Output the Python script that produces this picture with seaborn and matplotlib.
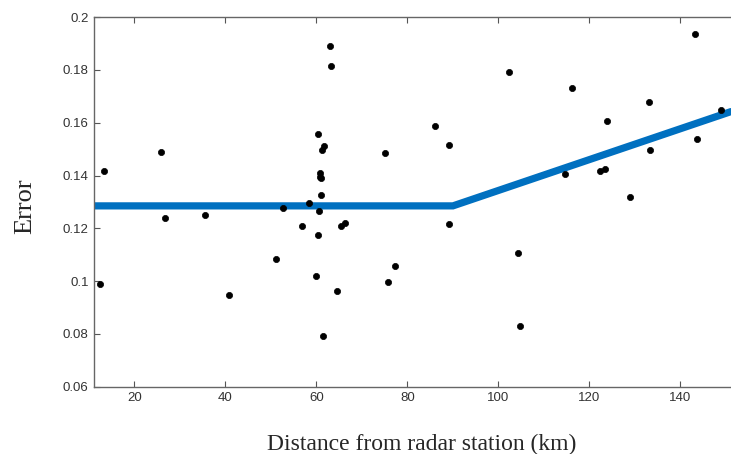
import numpy as np
import pandas as pd
import matplotlib
matplotlib.use("Agg")
import matplotlib.pyplot as plt
import seaborn as sns
from matplotlib.ticker import FormatStrFormatter

# Data
distance = [12.5, 13.3, 25.9, 26.7, 35.6, 40.9, 51.1, 52.7, 56.9, 58.4,
            60.0, 60.4, 60.4, 60.6, 60.9, 60.9, 61.1, 61.1, 61.3, 61.7,
            61.5, 63.0, 63.3, 64.6, 65.5, 66.3, 75.1, 75.7, 77.3, 86.1,
            89.2, 89.2, 102.4, 104.4, 104.8, 114.7, 116.2, 122.4, 123.5, 123.9,
            128.8, 133.0, 133.2, 143.1, 143.7, 149.0]
error = [0.0990, 0.1417, 0.1490, 0.1240, 0.1250, 0.0946, 0.1085, 0.1277, 0.1210, 0.1297,
         0.1021, 0.1175, 0.1558, 0.1265, 0.1410, 0.1395, 0.1390, 0.1327, 0.1497, 0.1510,
         0.0793, 0.1892, 0.1815, 0.0964, 0.1209, 0.1220, 0.1486, 0.0998, 0.1059, 0.1587,
         0.1514, 0.1218, 0.1792, 0.1107, 0.0831, 0.1404, 0.1733, 0.1418, 0.1424, 0.1608,
         0.1320, 0.1678, 0.1497, 0.1934, 0.1540, 0.1647]

fit_x = [11.2, 90.0, 151.1]
fit_y = [0.1285, 0.1285, 0.1642]

xticks = [20, 40, 60, 80, 100, 120, 140]
yticks = [0.06, 0.08, 0.10, 0.12, 0.14, 0.16, 0.18, 0.20]

sns.set_style("white")
plt.rcParams['font.family'] = ['Liberation Sans', 'DejaVu Sans']

fig = plt.figure(figsize=(7.31, 4.54), dpi=100)
ax = fig.add_axes([0.129, 0.148, 0.871, 0.8145])

df = pd.DataFrame({"distance": distance, "error": error})
fit = pd.DataFrame({"x": fit_x, "y": fit_y})

sns.lineplot(data=fit, x="x", y="y", ax=ax, color="#0070C0", linewidth=5.2,
             solid_joinstyle="miter", zorder=2)
sns.scatterplot(data=df, x="distance", y="error", ax=ax, color="black",
                s=20, edgecolor="black", linewidth=0.5, zorder=3)

ax.set_xlim(11.2, 151.1)
ax.set_ylim(0.06, 0.2)
ax.set_xticks(xticks)
ax.set_yticks(yticks)
ax.yaxis.set_major_formatter(FormatStrFormatter('%g'))

ax.tick_params(direction="in", length=4, width=0.8, color="#555555",
               labelsize=9.5, labelcolor="#333333", top=True, bottom=True,
               left=True, right=False, pad=4)
for side in ["left", "top", "bottom"]:
    ax.spines[side].set_color("#666666")
    ax.spines[side].set_linewidth(1.0)
ax.spines["right"].set_visible(False)

ax.set_xlabel("Distance from radar station (km)", family="Liberation Serif",
              fontsize=17)
ax.set_ylabel("Error", family="Liberation Serif", fontsize=19)
ax.xaxis.set_label_coords(0.5145, -0.127)
ax.yaxis.set_label_coords(-0.091, 0.488)

fig.savefig("out.png", dpi=100)
